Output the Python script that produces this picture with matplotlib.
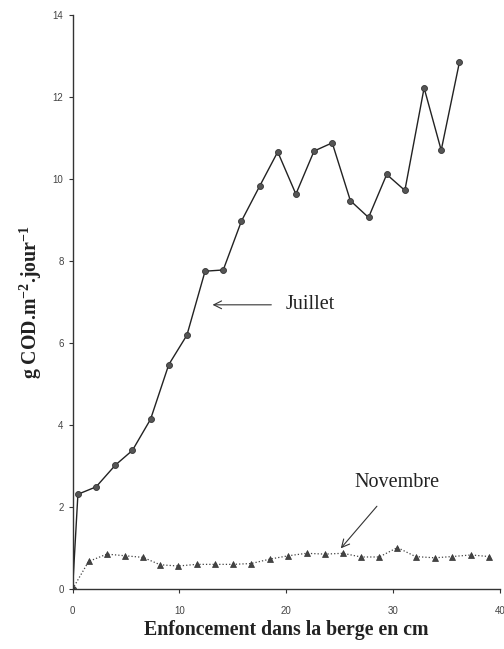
import matplotlib
matplotlib.use("Agg")
import matplotlib.pyplot as plt

# Juillet (circles, solid line)
juillet_x = [0, 0.5, 2.2, 4.0, 5.6, 7.3, 9.0, 10.7, 12.4, 14.1, 15.8, 17.5,
             19.2, 20.9, 22.6, 24.3, 26.0, 27.7, 29.4, 31.1, 32.9, 34.5, 36.2]
juillet_y = [0, 2.31, 2.49, 3.02, 3.38, 4.14, 5.47, 6.19, 7.75, 7.78, 8.97, 9.82,
             10.66, 9.63, 10.68, 10.88, 9.47, 9.06, 10.11, 9.72, 12.22, 10.70, 12.84]

# Novembre (triangles, dotted line)
novembre_x = [0, 1.5, 3.2, 4.9, 6.6, 8.2, 9.9, 11.6, 13.3, 15.0, 16.7, 18.5,
              20.2, 21.9, 23.6, 25.3, 27.0, 28.7, 30.4, 32.1, 33.9, 35.5, 37.3, 39.0]
novembre_y = [0, 0.67, 0.85, 0.81, 0.77, 0.59, 0.56, 0.60, 0.60, 0.60, 0.62, 0.73,
              0.81, 0.87, 0.85, 0.87, 0.78, 0.78, 1.01, 0.79, 0.76, 0.79, 0.83, 0.79]

xticks = [0, 10, 20, 30, 40]
yticks = [0, 2, 4, 6, 8, 10, 12, 14]

serif = ["Liberation Serif", "DejaVu Serif"]
sans = ["Liberation Sans", "DejaVu Sans"]

plt.rcParams["mathtext.fontset"] = "custom"
plt.rcParams["mathtext.rm"] = "Liberation Serif"
plt.rcParams["mathtext.bf"] = "Liberation Serif:bold"
plt.rcParams["mathtext.it"] = "Liberation Serif:italic"

fig = plt.figure(figsize=(5.04, 6.49), dpi=100)
ax = fig.add_axes([0.144, 0.0925, 0.848, 0.8845])

ax.plot(juillet_x, juillet_y, "-", color="#222222", lw=1.0,
        marker="o", ms=4.3, mfc="#555555", mec="#333333", mew=0.6)
ax.plot(novembre_x, novembre_y, ":", color="#444444", lw=0.9,
        marker="^", ms=4, mfc="#444444", mec="#333333", mew=0.5)

ax.set_xlim(0, 40)
ax.set_ylim(0, 14)
ax.set_xticks(xticks)
ax.set_yticks(yticks)
for s in ["top", "right"]:
    ax.spines[s].set_visible(False)
for s in ["left", "bottom"]:
    ax.spines[s].set_color("#333333")
    ax.spines[s].set_linewidth(1.0)
ax.tick_params(direction="out", length=3, width=0.8, colors="#333333",
               labelcolor="#444444", labelsize=7)
ax.tick_params(axis="x", pad=9)
for lab in ax.get_xticklabels() + ax.get_yticklabels():
    lab.set_family(sans)

ax.set_xlabel("Enfoncement dans la berge en cm", family=serif,
              fontweight="bold", fontsize=14.3, color="#222222", labelpad=3)
ax.set_ylabel("g COD.m$^{\\mathbf{-2}}$.jour$^{\\mathbf{-1}}$", family=serif,
              fontweight="bold", fontsize=14.3, color="#222222", labelpad=6)

ax.annotate("Juillet", xy=(13.1, 6.93), xytext=(19.9, 6.93),
            family=serif, fontsize=14.5, color="#222222", va="center", ha="left",
            arrowprops=dict(arrowstyle="->", color="#333333", lw=0.8,
                            shrinkA=8, shrinkB=0, mutation_scale=14))
ax.annotate("Novembre", xy=(25.1, 0.99), xytext=(30.4, 2.6),
            family=serif, fontsize=14.5, color="#222222", va="center", ha="center",
            arrowprops=dict(arrowstyle="->", color="#333333", lw=0.8,
                            shrinkA=11, shrinkB=0, mutation_scale=14))

fig.savefig("out.png", dpi=100)
